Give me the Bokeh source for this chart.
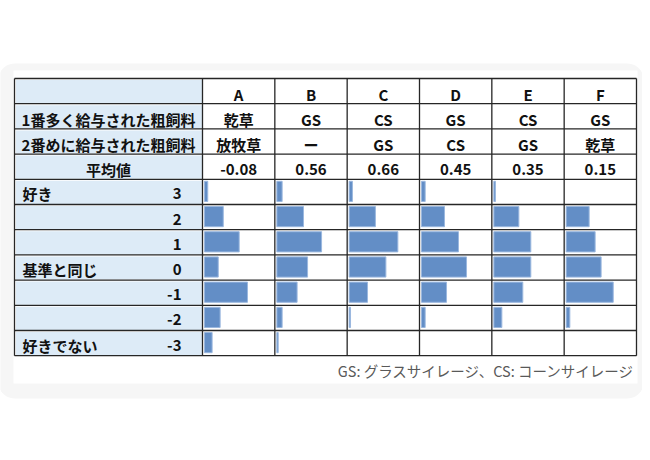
import numpy as np
from bokeh.plotting import figure
from bokeh.models import Range1d
from bokeh.core.properties import value
from bokeh.embed import file_html
from bokeh.resources import INLINE

# ---------------- data ----------------
farms = ["A", "B", "C", "D", "E", "F"]
main_roughage = ["乾草", "GS", "CS", "GS", "CS", "GS"]
second_roughage = ["放牧草", "ー", "GS", "CS", "GS", "乾草"]
mean_scores = [-0.08, 0.56, 0.66, 0.45, 0.35, 0.15]
scores = [3, 2, 1, 0, -1, -2, -3]
score_words = ["好き", "", "", "基準と同じ", "", "", "好きでない"]
row_titles = ["", "1番多く給与された粗飼料", "2番めに給与された粗飼料", "平均値"]
# share of answers (%) per score 3..-3, for each farm
share_A = [2.4, 13.8, 25.5, 10.1, 31.6, 11.5, 5.6]
share_B = [3.9, 19.6, 32.9, 22.6, 14.9, 3.9, 1.0]
share_C = [2.4, 19.3, 35.8, 27.0, 13.5, 1.0, 0.0]
share_D = [2.7, 16.9, 27.2, 33.1, 18.4, 2.7, 0.0]
share_E = [1.2, 18.4, 27.2, 27.2, 21.3, 5.9, 0.0]
share_F = [0.0, 16.9, 21.3, 25.7, 34.6, 2.7, 0.0]
shares = [share_A, share_B, share_C, share_D, share_E, share_F]
footnote = "GS: グラスサイレージ、CS: コーンサイレージ"

# ---------------- layout ----------------
W, H = 642, 444
p = figure(width=W, height=H, output_backend="svg", toolbar_location=None,
           x_range=Range1d(0, W), y_range=Range1d(H, 0),
           x_axis_type=None, y_axis_type=None, min_border=0)
p.outline_line_color = None
p.grid.visible = False
p.background_fill_color = "white"
p.border_fill_color = "white"

FONT = value("Noto Sans CJK JP")


def rounded_rect(x0, y0, x1, y1, r, n=12):
    xs, ys = [], []
    corners = [(x1 - r, y0 + r, -np.pi / 2, 0), (x1 - r, y1 - r, 0, np.pi / 2),
               (x0 + r, y1 - r, np.pi / 2, np.pi), (x0 + r, y0 + r, np.pi, 1.5 * np.pi)]
    for cx, cy, a0, a1 in corners:
        t = np.linspace(a0, a1, n)
        xs.extend(cx + r * np.cos(t))
        ys.extend(cy + r * np.sin(t))
    return xs, ys


# panel background
bx, by = rounded_rect(-2, 63, 643, 398, 16)
p.patch(bx, by, fill_color="#f6f6f6", line_color=None)
p.quad(left=[13], right=[637], top=[70], bottom=[383], fill_color="white", line_color=None)

tbl_left, lab_right, tbl_right = 14, 202, 636
top = 78
rh = 25.2
n_rows = len(row_titles) + len(scores)
col_w = (tbl_right - lab_right) / len(farms)
col_left = [lab_right + i * col_w for i in range(len(farms))]
col_ctr = [c + col_w / 2 for c in col_left]
row_top = [top + i * rh for i in range(n_rows)]
row_ctr = [t + rh / 2 for t in row_top]
bottom = top + n_rows * rh
lab_ctr = (tbl_left + lab_right) / 2

# label column fill
p.quad(left=[tbl_left + 1.5] * n_rows, right=[lab_right - 0.5] * n_rows,
       top=[t + 1.5 for t in row_top], bottom=[t + rh - 0.5 for t in row_top],
       fill_color="#ddebf7", line_color=None)

# data bars
px_per_pct = 1.36
bl, br, bt, bb = [], [], [], []
for j, s in enumerate(shares):
    for i, v in enumerate(s):
        if v <= 0:
            continue
        t = row_top[len(row_titles) + i]
        bl.append(col_left[j] + 2)
        br.append(col_left[j] + 2 + v * px_per_pct)
        bt.append(t + 2)
        bb.append(t + rh - 3)
p.quad(left=bl, right=br, top=bt, bottom=bb, fill_color="#638ec6",
       line_color="#9bb8df", line_width=1)

# grid lines
hx0 = [tbl_left] * (n_rows + 1)
hx1 = [tbl_right] * (n_rows + 1)
hy = [top + i * rh for i in range(n_rows + 1)]
p.segment(x0=hx0, x1=hx1, y0=hy, y1=hy, line_color="#262626", line_width=1.3)
vx = [tbl_left, lab_right] + col_left[1:] + [tbl_right]
p.segment(x0=vx, x1=vx, y0=[top] * len(vx), y1=[bottom] * len(vx),
          line_color="#262626", line_width=1.3)

dy = 3
bold = dict(text_font=FONT, text_font_style="bold", text_font_size="15px",
            text_color="#111111", text_baseline="middle")

# header cells
p.text(x=col_ctr, y=[row_ctr[0] + dy] * 6, text=farms, text_align="center", **bold)
p.text(x=col_ctr, y=[row_ctr[1] + dy] * 6, text=main_roughage, text_align="center", **bold)
p.text(x=col_ctr, y=[row_ctr[2] + dy] * 6, text=second_roughage, text_align="center", **bold)
p.text(x=col_ctr, y=[row_ctr[3] + dy] * 6, text=[f"{m:.2f}" for m in mean_scores],
       text_align="center", **bold)

# row titles
p.text(x=[lab_ctr] * 3, y=[row_ctr[k] + dy for k in (1, 2, 3)],
       text=row_titles[1:], text_align="center", **bold)
p.text(x=[181] * len(scores), y=[row_ctr[len(row_titles) + i] + dy - 1 for i in range(len(scores))],
       text=[str(s) for s in scores], text_align="right", **bold)
p.text(x=[22] * len(scores), y=[row_ctr[len(row_titles) + i] + dy - 1 for i in range(len(scores))],
       text=score_words, text_align="left", **bold)

# footnote
p.text(x=[634], y=[370], text=[footnote], text_align="right", text_baseline="middle",
       text_font=FONT, text_font_size="14.5px", text_color="#595959")

open("out.html", "w").write(file_html(p, INLINE))
